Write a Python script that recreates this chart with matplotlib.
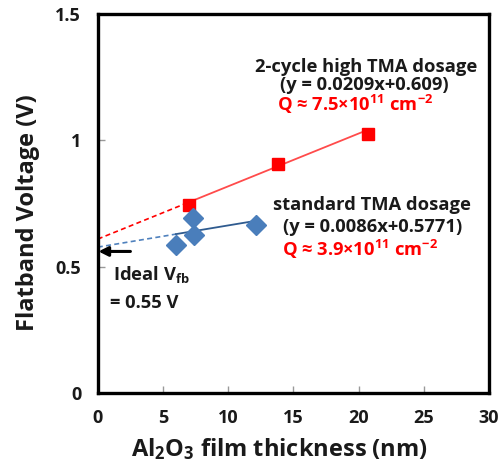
import matplotlib
matplotlib.use("Agg")
import matplotlib.pyplot as plt
import numpy as np

FONT = 'Open Sans'
plt.rcParams['font.family'] = [FONT, 'DejaVu Sans']
plt.rcParams['font.weight'] = 'bold'
plt.rcParams['mathtext.fontset'] = 'custom'
plt.rcParams['mathtext.rm'] = FONT + ':bold'
plt.rcParams['mathtext.it'] = FONT + ':bold'
plt.rcParams['mathtext.bf'] = FONT + ':bold'

# Measured flatband voltage vs. Al2O3 thickness
high_x = [7.0, 13.8, 20.7]
high_y = [0.745, 0.906, 1.025]
std_x = [6.0, 7.3, 7.4, 12.1]
std_y = [0.585, 0.693, 0.625, 0.665]

# Linear fits (slope, intercept)
high_fit = (0.0209, 0.609)
std_fit = (0.0086, 0.5771)

ideal_vfb = 0.56

x_ticks = [0, 5, 10, 15, 20, 25, 30]
y_ticks = [0, 0.5, 1, 1.5]
y_tick_labels = ['0', '0.5', '1', '1.5']

RED = '#FF0000'
RED_LINE = '#FF4B4B'
BLUE = '#4A7EBB'
BLUE_LINE = '#2F5B8F'
BLUE_DASH = '#4F81BD'
TXT = '#1a1a1a'

fig = plt.figure(figsize=(4.99, 4.71), dpi=100)
ax = fig.add_axes([0.196, 0.166, 0.784, 0.804])

def fit_line(fit, x0, x1):
    xs = np.array([x0, x1])
    return xs, fit[0] * xs + fit[1]

# extrapolated (dashed) and fitted (solid) segments
xs, ys = fit_line(high_fit, 0, min(high_x))
ax.plot(xs, ys, color=RED, lw=1.2, ls=(0, (3, 2)), zorder=2)
xs, ys = fit_line(high_fit, min(high_x), max(high_x))
ax.plot(xs, ys, color=RED_LINE, lw=1.3, zorder=2)

xs, ys = fit_line(std_fit, 0, min(std_x))
ax.plot(xs, ys, color=BLUE_DASH, lw=1.2, ls=(0, (3, 2)), zorder=2)
xs, ys = fit_line(std_fit, min(std_x), max(std_x))
ax.plot(xs, ys, color=BLUE_LINE, lw=1.3, zorder=2)

ax.plot(high_x, high_y, ls='none', marker='s', ms=9, color=RED, mec=RED, zorder=3)
ax.plot(std_x, std_y, ls='none', marker='D', ms=10, color=BLUE, mec=BLUE, zorder=3)

# ideal flatband marker arrow
ax.annotate('', xy=(0.05, ideal_vfb), xytext=(2.5, ideal_vfb),
            arrowprops=dict(arrowstyle='-|>', color='black', lw=2.2,
                            mutation_scale=14, shrinkA=0, shrinkB=0),
            zorder=4)
FS = 13.2
ax.text(1.2, 0.468, 'Ideal V$_{fb}$', fontsize=FS, color=TXT,
        ha='left', va='center')
ax.text(0.95, 0.355, '= 0.55 V', fontsize=FS, color=TXT,
        ha='left', va='center')

# fit annotations
ax.text(20.57, 1.29, '2-cycle high TMA dosage', fontsize=FS, color=TXT,
        ha='center', va='center')
ax.text(20.4, 1.219, '(y = 0.0209x+0.609)', fontsize=FS, color=TXT,
        ha='center', va='center')
ax.text(19.7, 1.142, 'Q ≈ 7.5×10$^{11}$ cm$^{-2}$', fontsize=FS, color=RED,
        ha='center', va='center')

ax.text(21.0, 0.744, 'standard TMA dosage', fontsize=FS, color=TXT,
        ha='center', va='center')
ax.text(21.07, 0.657, '(y = 0.0086x+0.5771)', fontsize=FS, color=TXT,
        ha='center', va='center')
ax.text(20.1, 0.568, 'Q ≈ 3.9×10$^{11}$ cm$^{-2}$', fontsize=FS, color=RED,
        ha='center', va='center')

ax.set_xlim(0, 30)
ax.set_ylim(0, 1.5)
ax.set_xticks(x_ticks)
ax.set_yticks(y_ticks)
ax.set_yticklabels(y_tick_labels)
ax.tick_params(direction='in', length=5, width=1, color='#999999',
               labelsize=13, labelcolor=TXT, pad=12)
for lab in ax.get_xticklabels() + ax.get_yticklabels():
    lab.set_fontweight('bold')

for sp in ax.spines.values():
    sp.set_linewidth(2.4)
    sp.set_color('black')

ax.set_xlabel('Al$_2$O$_3$ film thickness (nm)', fontsize=17, color=TXT,
              fontweight='bold')
ax.set_ylabel('Flatband Voltage (V)', fontsize=17, color=TXT,
              fontweight='bold')
ax.xaxis.set_label_coords(0.465, -0.115)
ax.yaxis.set_label_coords(-0.148, 0.476)

fig.savefig('out.png', dpi=100)
